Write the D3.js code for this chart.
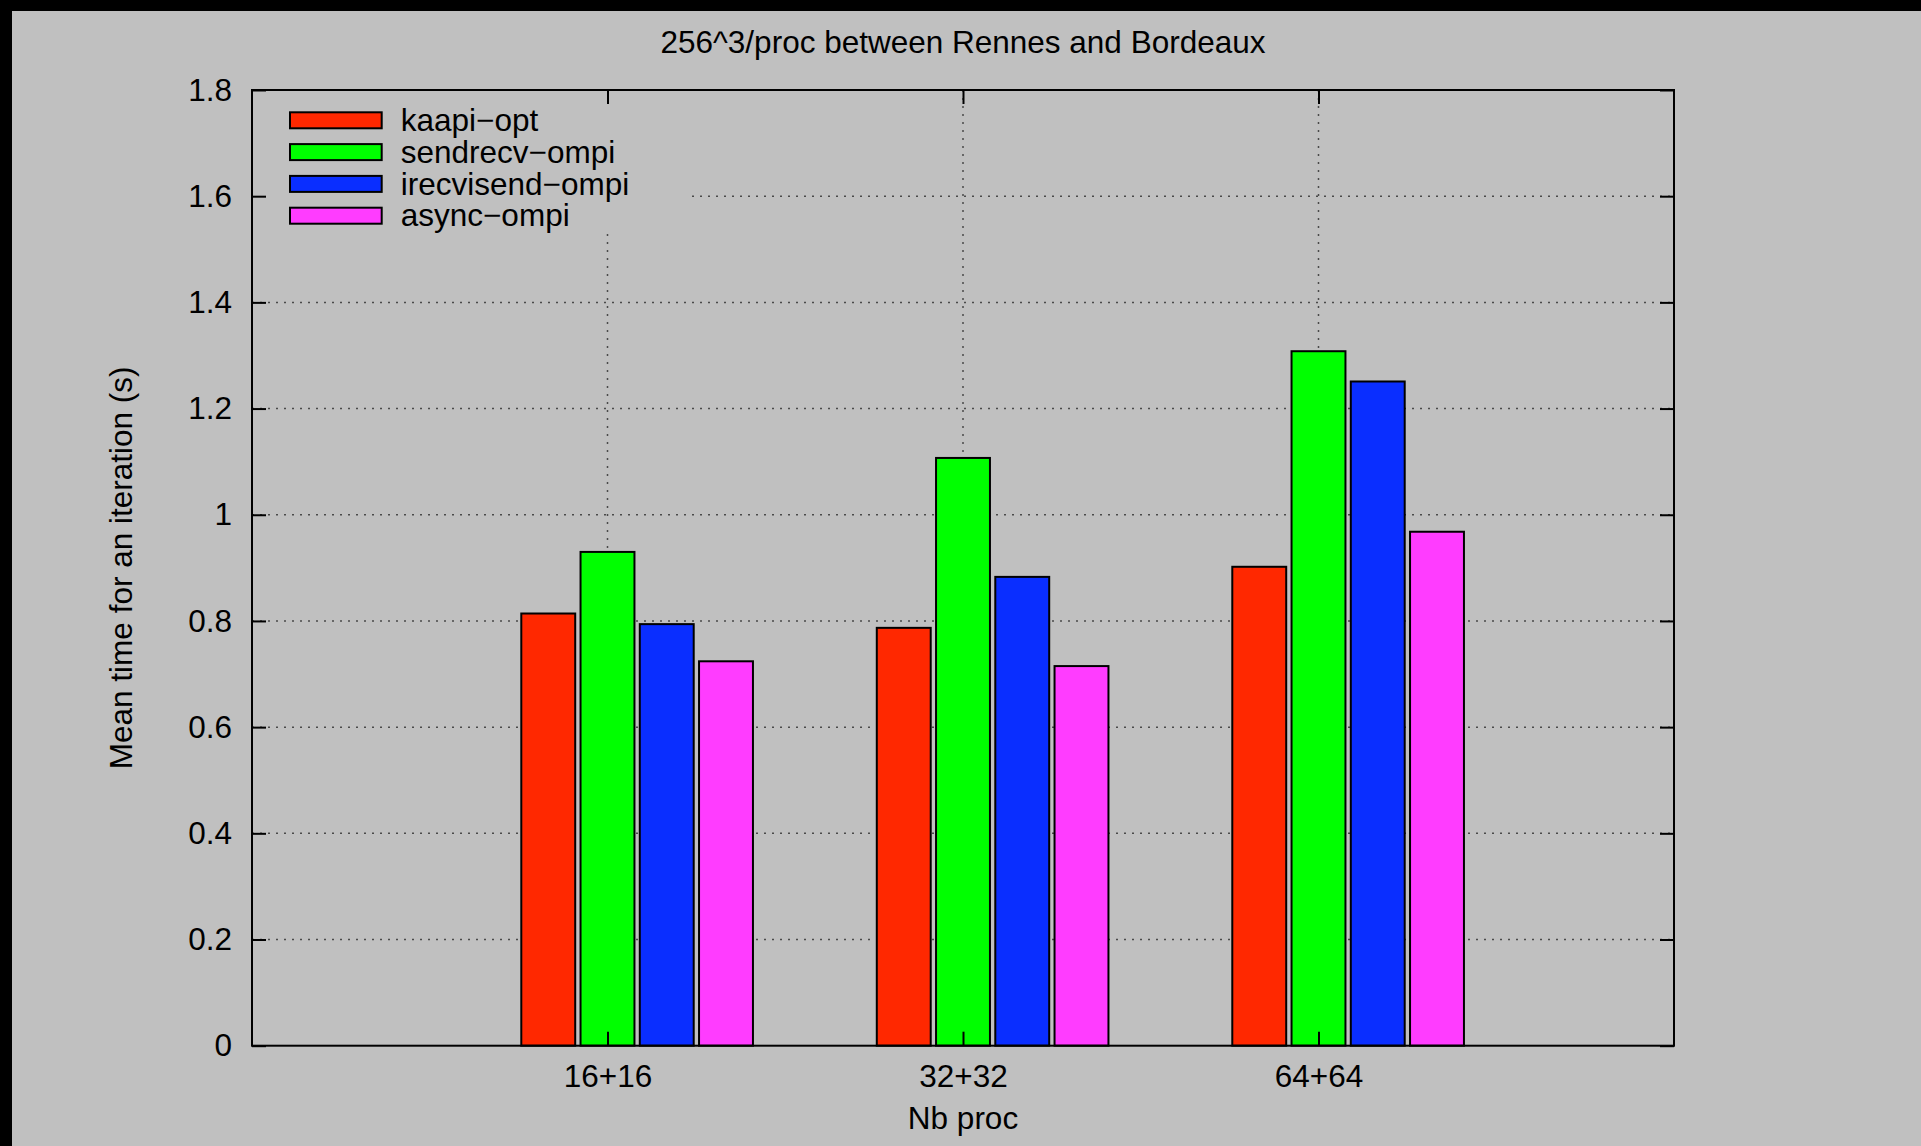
<!DOCTYPE html>
<html>
<head>
<meta charset="utf-8">
<script src="https://cdn.jsdelivr.net/npm/d3@7"></script>
<style>
  html, body { margin: 0; padding: 0; background: #c0c0c0; }
  svg { display: block; }
  text { font-family: "Liberation Sans", Arial, Helvetica, sans-serif; fill: #000; }
</style>
</head>
<body>
<svg id="chart" width="1921" height="1146"></svg>
<script>
// Benchmark: mean time per iteration, 256^3 points per process, Rennes <-> Bordeaux
const categories = ["16+16", "32+32", "64+64"];
const seriesNames = ["kaapi\u2212opt", "sendrecv\u2212ompi", "irecvisend\u2212ompi", "async\u2212ompi"];
const kaapiOpt      = [0.814, 0.787, 0.902];
const sendrecvOmpi  = [0.930, 1.107, 1.308];
const irecvisendOmpi = [0.794, 0.883, 1.251];
const asyncOmpi     = [0.724, 0.715, 0.968];
const seriesValues = [kaapiOpt, sendrecvOmpi, irecvisendOmpi, asyncOmpi];
const seriesColors = ["#ff2800", "#00ff00", "#0a2eff", "#ff3cff"];
const yTickValues = [0, 0.2, 0.4, 0.6, 0.8, 1, 1.2, 1.4, 1.6, 1.8];

const W = 1921, H = 1146;
const plot = { left: 252, top: 90, right: 1674, bottom: 1045.7 };
const FONT = 31.5;
const TICK = 14;

const svg = d3.select("#chart");

// page background with the dark border strip on top and left
svg.append("rect").attr("width", W).attr("height", H).attr("fill", "#000");
svg.append("rect").attr("x", 12).attr("y", 11).attr("width", W - 12).attr("height", H - 11).attr("fill", "#c0c0c0");

const x = d3.scalePoint().domain(categories).range([plot.left, plot.right]).padding(1);
const slot = x.step() / 6;
const xSub = d3.scaleBand().domain(seriesNames)
  .range([-1.5 * slot, 2.5 * slot])
  .paddingInner(0.09).paddingOuter(0.045);
const y = d3.scaleLinear().domain([0, 1.8]).range([plot.bottom, plot.top]);

// dotted grid
const grid = svg.append("g").attr("stroke", "#4a4a4a").attr("stroke-width", 1.5).attr("stroke-dasharray", "2,6");
grid.selectAll("line.h").data(yTickValues.filter(v => v > 0 && v < 1.8)).join("line")
  .attr("class", "h")
  .attr("x1", plot.left).attr("x2", plot.right)
  .attr("y1", d => y(d)).attr("y2", d => y(d));
grid.selectAll("line.v").data(categories).join("line")
  .attr("class", "v")
  .attr("x1", d => x(d)).attr("x2", d => x(d))
  .attr("y1", plot.top).attr("y2", plot.bottom);

// key background (hides grid behind the legend)
svg.append("rect")
  .attr("x", plot.left + 1).attr("y", plot.top + 1)
  .attr("width", 686 - plot.left - 1).attr("height", 232 - plot.top - 1)
  .attr("fill", "#c0c0c0");

// bars
const groups = svg.append("g").selectAll("g").data(categories).join("g")
  .attr("transform", d => `translate(${x(d)},0)`);
groups.selectAll("rect")
  .data((c, i) => seriesNames.map((s, j) => ({ s, j, v: seriesValues[j][i] })))
  .join("rect")
  .attr("x", d => xSub(d.s))
  .attr("width", xSub.bandwidth())
  .attr("y", d => y(d.v))
  .attr("height", d => y(0) - y(d.v))
  .attr("fill", d => seriesColors[d.j])
  .attr("stroke", "#000")
  .attr("stroke-width", 2);

// axes with inward ticks
function styleAxis(g, showLabels) {
  g.select(".domain").remove();
  g.selectAll(".tick line").attr("stroke", "#000").attr("stroke-width", 2);
  g.selectAll(".tick text").attr("font-size", FONT).attr("font-family", null).attr("fill", "#000");
  if (!showLabels) g.selectAll(".tick text").remove();
}
svg.append("g").attr("transform", `translate(${plot.left},0)`)
  .call(d3.axisLeft(y).tickValues(yTickValues).tickFormat(d3.format("~g")).tickSize(-TICK).tickPadding(20))
  .call(g => styleAxis(g, true));
svg.append("g").attr("transform", `translate(${plot.right},0)`)
  .call(d3.axisRight(y).tickValues(yTickValues).tickSize(-TICK))
  .call(g => styleAxis(g, false));
svg.append("g").attr("transform", `translate(0,${plot.bottom})`)
  .call(d3.axisBottom(x).tickSize(-TICK).tickPadding(18.6))
  .call(g => styleAxis(g, true));
svg.append("g").attr("transform", `translate(0,${plot.top})`)
  .call(d3.axisTop(x).tickSize(-TICK))
  .call(g => styleAxis(g, false));

// frame
svg.append("rect")
  .attr("x", plot.left).attr("y", plot.top)
  .attr("width", plot.right - plot.left).attr("height", plot.bottom - plot.top)
  .attr("fill", "none").attr("stroke", "#000").attr("stroke-width", 2);

// legend
const legend = svg.append("g");
const rowY = i => 120.3 + i * 31.8;
legend.selectAll("rect").data(seriesNames).join("rect")
  .attr("x", 290).attr("width", 91.7)
  .attr("y", (d, i) => rowY(i) - 8).attr("height", 16)
  .attr("fill", (d, i) => seriesColors[i])
  .attr("stroke", "#000").attr("stroke-width", 2);
legend.selectAll("text").data(seriesNames).join("text")
  .attr("x", 400.7)
  .attr("y", (d, i) => rowY(i) + 10.6)
  .attr("font-size", FONT)
  .text(d => d);

// titles
svg.append("text")
  .attr("x", (plot.left + plot.right) / 2).attr("y", 52.7)
  .attr("text-anchor", "middle").attr("font-size", FONT)
  .text("256^3/proc between Rennes and Bordeaux");
svg.append("text")
  .attr("x", (plot.left + plot.right) / 2).attr("y", 1129)
  .attr("text-anchor", "middle").attr("font-size", FONT)
  .text("Nb proc");
svg.append("text")
  .attr("transform", `translate(131.7,${(plot.top + plot.bottom) / 2}) rotate(-90)`)
  .attr("text-anchor", "middle").attr("font-size", FONT)
  .text("Mean time for an iteration (s)");
</script>
</body>
</html>
